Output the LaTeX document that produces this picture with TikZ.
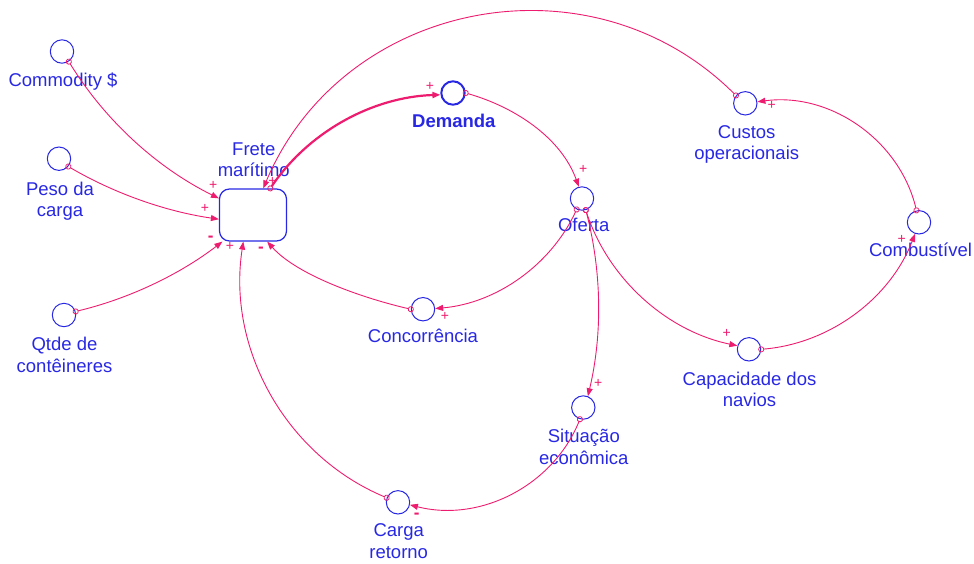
\documentclass[tikz,border=0pt]{standalone}
\usepackage{fontspec}
\setmainfont{Liberation Sans}
\usetikzlibrary{arrows.meta}
\definecolor{linkpink}{RGB}{238,28,110}
\definecolor{varblue}{RGB}{40,40,228}
\begin{document}
\begin{tikzpicture}[x=1pt,y=-1pt,
  var/.style={circle,draw=varblue,line width=1pt,minimum size=23.4pt,inner sep=0pt},
  frbox/.style={rectangle,draw=varblue,line width=1.2pt,rounded corners=10pt,
    minimum width=67pt,minimum height=52pt,inner sep=0pt},
  lbl/.style={text=varblue,font=\fontsize{18.5}{21.5}\selectfont,align=center,
    anchor=base,inner sep=0pt},
  link/.style={draw=linkpink,line width=0.9pt,
    arrows={Circle[open,length=6pt,width=6pt,line width=0.8pt]-Triangle[length=8pt,width=6pt]},
    shorten <=-3pt},
  sgn/.style={text=linkpink,font=\fontsize{14}{14}\selectfont,inner sep=0pt},
  msgn/.style={sgn,font=\fontsize{17}{17}\selectfont\bfseries},
]
\useasboundingbox (0,0) rectangle (974,563);

% variables
\node[var] (comm)   at (62,51.5)    {};
\node[var] (peso)   at (59,158.7)   {};
\node[var] (qtde)   at (64,315)     {};
\node[frbox] (frete) at (253,215)   {};
\node[var,line width=2pt] (dem) at (453,93) {};
\node[var] (custos) at (745.3,103.3) {};
\node[var] (comb)   at (919,222.3)  {};
\node[var] (oferta) at (582,198.5)  {};
\node[var] (conc)   at (423,309.2)  {};
\node[var] (cap)    at (749,349.3)  {};
\node[var] (sit)    at (583.3,407.5) {};
\node[var] (carga)  at (398,502.3)  {};

% names (base anchor of two-line names sits on the second line)
\node[lbl] (comm-t)   at (63,86.7)    {Commodity \$};
\node[lbl] (peso-t)   at (60,216.5)   {Peso da\\carga};
\node[lbl] (qtde-t)   at (64.5,372.2) {Qtde de\\contêineres};
\node[lbl] (frete-t)  at (253.8,176.5) {Frete\\marítimo};
\node[lbl,font=\fontsize{18.5}{21.5}\selectfont\bfseries] (dem-t) at (453.8,127.7) {Demanda};
\node[lbl] (custos-t) at (746.7,159.8) {Custos\\operacionais};
\node[lbl] (comb-t)   at (920.5,256.7) {Combustível};
\node[lbl] (oferta-t) at (583.7,231.7) {Oferta};
\node[lbl] (conc-t)   at (423,342.7)  {Concorrência};
\node[lbl] (cap-t)    at (749.5,406.5) {Capacidade dos\\navios};
\node[lbl] (sit-t)    at (583.8,464.2) {Situação\\econômica};
\node[lbl] (carga-t)  at (398.7,558.2) {Carga\\retorno};

% causal links
\draw[link] (comm.-56)   to[bend right=16,looseness=0.87] (frete.154);
\draw[link] (peso.-40)   to[bend right=11,looseness=0.86] (frete.-173);
\draw[link] (qtde.17)    to[bend right=12,looseness=0.86] (frete.-139);
\draw[link] (carga.158)  to[bend left=38,looseness=0.95]  (frete.-110);
\draw[link] (conc.180)   to[out=167,in=-48,looseness=0.75] (frete.-62);
\draw[link,line width=2.2pt] (frete.57) to[bend left=27,looseness=0.9] (dem.188);
\draw[link] (dem.0)      to[out=-16,in=110,looseness=0.9] (oferta.105);
\draw[link] (oferta.-116) to[bend left=30,looseness=0.91] (conc.3);
\draw[link] (oferta.-72) to[bend left=14,looseness=0.87]  (sit.68);
\draw[link] (sit.-106)   to[bend left=41,looseness=0.97]  (carga.-12);
\draw[link] (oferta.-72) to[bend right=30,looseness=0.91] (cap.163);
\draw[link] (cap.0)      to[bend right=32,looseness=0.92] (comb.-109);
\draw[link] (comb.102)   to[bend right=42,looseness=0.97] (custos.7);
\draw[link] (custos.140) to[bend right=56,looseness=1.09] (frete.69);

% link polarities
\node[sgn]  (p1)  at (213.3,185)   {+};
\node[sgn]  (p2)  at (205,208.3)   {+};
\node[msgn] (p3)  at (210.7,239)   {-};
\node[sgn]  (p4)  at (230,246)     {+};
\node[msgn] (p5)  at (261,250)     {-};
\node[sgn]  (p6)  at (272.5,181)   {+};
\node[sgn]  (p7)  at (430,86)      {+};
\node[sgn]  (p8)  at (583.3,169.3) {+};
\node[sgn]  (p9)  at (445,316.7)   {+};
\node[sgn]  (p10) at (598.3,383.3) {+};
\node[msgn] (p11) at (416.7,515.7) {-};
\node[sgn]  (p12) at (726.7,333.3) {+};
\node[sgn]  (p13) at (901.7,239.3) {+};
\node[sgn]  (p14) at (771.7,105)   {+};
\end{tikzpicture}
\end{document}
